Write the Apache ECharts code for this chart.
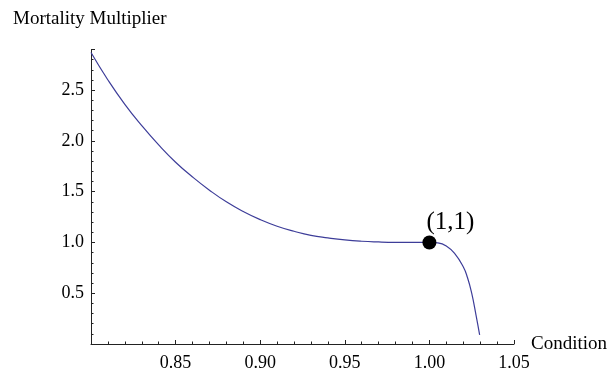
<!DOCTYPE html>
<html>
<head>
<meta charset="utf-8">
<script src="https://cdn.jsdelivr.net/npm/echarts@6/dist/echarts.min.js"></script>
<style>html,body{margin:0;padding:0;background:#fff}#c{width:610px;height:377px}</style>
</head>
<body>
<div id="c"></div>
<script>
// Values
const conditionX = [0.80, 0.81, 0.82, 0.83, 0.84, 0.85, 0.86, 0.87, 0.88, 0.89, 0.90, 0.91, 0.92, 0.93, 0.94, 0.95, 0.96, 0.97, 0.98, 0.99, 1.00, 1.005, 1.01, 1.015, 1.02, 1.0225, 1.025, 1.0275, 1.0297];
const multiplierY = [2.87, 2.60, 2.36, 2.15, 1.96, 1.79, 1.645, 1.515, 1.40, 1.305, 1.225, 1.16, 1.11, 1.07, 1.045, 1.025, 1.012, 1.005, 1.001, 1.0, 1.0, 0.995, 0.965, 0.89, 0.76, 0.655, 0.50, 0.29, 0.09];
const pointX = [1.0];
const pointY = [1.0];
const pointLabel = ["(1,1)"];
const xTicks = [0.85, 0.90, 0.95, 1.00, 1.05];
const yTicks = [0.5, 1.0, 1.5, 2.0, 2.5];

const FONT = "Liberation Serif";
const chart = echarts.init(document.getElementById('c'), null, {renderer: 'canvas'});
const near = (v, arr) => arr.some(t => Math.abs(t - v) < 1e-6);
chart.setOption({
  animation: false,
  backgroundColor: '#fff',
  title: {
    text: 'Mortality Multiplier', left: 8, top: 5,
    textStyle: {fontFamily: FONT, fontWeight: 'normal', fontSize: 19, color: '#000'}
  },
  grid: {left: 91, right: 96, top: 49.5, bottom: 33, containLabel: false},
  xAxis: {
    type: 'value', min: 0.8, max: 1.05, interval: 0.05,
    name: 'Condition', nameLocation: 'end', nameGap: 17,
    nameTextStyle: {fontFamily: FONT, fontSize: 19, color: '#000', verticalAlign: 'middle'},
    axisLine: {show: true, onZero: false, lineStyle: {color: '#222', width: 1}},
    axisTick: {show: true, inside: true, length: 4, lineStyle: {color: '#222'}},
    minorTick: {show: true, splitNumber: 5, length: 2.5, lineStyle: {color: '#222'}},
    splitLine: {show: false},
    axisLabel: {
      fontFamily: FONT, fontSize: 18, color: '#000', margin: 10,
      formatter: v => near(v, xTicks) ? v.toFixed(2) : ''
    }
  },
  yAxis: {
    type: 'value', min: 0, max: 2.9, interval: 0.5,
    axisLine: {show: true, onZero: false, lineStyle: {color: '#222', width: 1}},
    axisTick: {show: true, inside: true, length: 4, lineStyle: {color: '#222'}},
    minorTick: {show: true, splitNumber: 5, length: 2.5, lineStyle: {color: '#222'}},
    splitLine: {show: false},
    axisLabel: {
      fontFamily: FONT, fontSize: 18, color: '#000', margin: 7,
      formatter: v => near(v, yTicks) ? v.toFixed(1) : ''
    }
  },
  series: [
    {
      type: 'line', showSymbol: false, smooth: 0.5,
      data: conditionX.map((x, i) => [x, multiplierY[i]]),
      lineStyle: {color: '#3d3d99', width: 1.2},
      z: 2
    },
    {
      type: 'scatter', symbol: 'circle', symbolSize: 14,
      data: pointX.map((x, i) => ({value: [x, pointY[i]], label: {formatter: pointLabel[i]}})),
      itemStyle: {color: '#000', opacity: 1},
      emphasis: {disabled: true},
      label: {
        show: true, position: 'top', distance: 1, offset: [21, 0],
        fontFamily: FONT, fontSize: 25, color: '#000'
      },
      z: 3
    }
  ]
});
</script>
</body>
</html>
